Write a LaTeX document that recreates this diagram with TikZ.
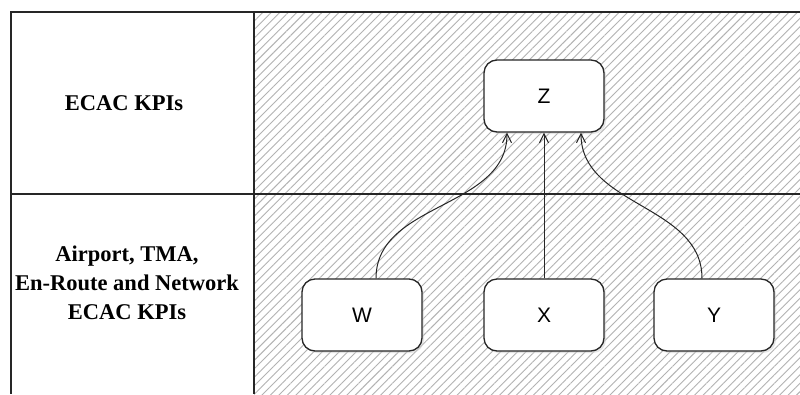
\documentclass[tikz,border=0pt]{standalone}
\usepackage{fontspec}
\setmainfont{Liberation Serif}
\setsansfont{Liberation Sans}
\usetikzlibrary{patterns.meta,arrows.meta,shadows}

\tikzset{
  kpibox/.style={draw=black!85, line width=1.3pt, fill=white, rounded corners=13pt,
    minimum width=120pt, minimum height=72pt, font=\sffamily\fontsize{21}{24}\selectfont,
    drop shadow={shadow xshift=2pt, shadow yshift=-2pt, fill=black!20}},
  rowlabel/.style={align=center, font=\bfseries\fontsize{22.5}{29}\selectfont},
  link/.style={draw=black!85, line width=1pt, -{Straight Barb[length=9pt,width=9pt]}}
}

\begin{document}
\begin{tikzpicture}[x=1pt, y=-1pt]

  \useasboundingbox (0,0) rectangle (800,394);

  % schraffierter Bereich rechts
  \fill[white] (0,0) rectangle (800,394);
  \fill[pattern={Lines[angle=45, distance=6pt, line width=0.9pt]}, pattern color=black!30]
    (254,12) rectangle (800,394);

  % Tabellenrahmen
  \draw[line width=1.3pt, black!85] (800,12) -- (11,12) -- (11,394);
  \draw[line width=1.3pt, black!85] (254,12) -- (254,394);
  \draw[line width=1.3pt, black!85] (11,194) -- (800,194);

  % Zeilenbeschriftungen
  \node[rowlabel] (toplabel) at (124,103) {ECAC KPIs};
  \node[rowlabel] (botlabel) at (127,283) {Airport, TMA,\\En-Route and Network\\ECAC KPIs};

  % obere Box
  \node[kpibox] (Z) at (544,96) {Z};

  % untere Boxen
  \foreach \name/\xpos in {W/362, X/544, Y/714}{
    \node[kpibox] (\name) at (\xpos,315) {\name};
  }

  % Verbindungen nach oben
  \draw[link] ([xshift=14pt]W.north) to[out=90, in=-90] ([xshift=-37pt]Z.south);
  \draw[link] (X.north) -- (Z.south);
  \draw[link] ([xshift=-12pt]Y.north) to[out=90, in=-90] ([xshift=37pt]Z.south);

\end{tikzpicture}
\end{document}
